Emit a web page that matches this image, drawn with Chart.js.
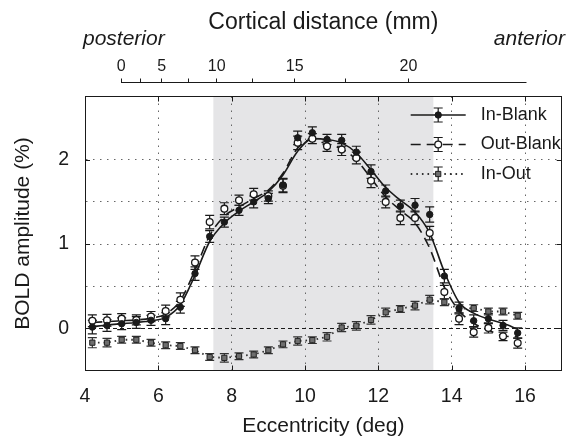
<!DOCTYPE html>
<html>
<head>
<meta charset="utf-8">
<script src="https://cdn.jsdelivr.net/npm/chart.js@4.4.1/dist/chart.umd.min.js"></script>
<style>
  html, body { margin: 0; padding: 0; background: #fff; }
  #wrap { width: 567px; height: 437px; }
</style>
</head>
<body>
<div id="wrap"><canvas id="myChart" width="567" height="437"></canvas></div>
<script>
const FONT = "'Liberation Sans', Arial, Helvetica, sans-serif";
const ink = '#1a1a1a';

// eccentricity of each measurement (deg)
const ecc = [4.2, 4.6, 5.0, 5.4, 5.8, 6.2, 6.6, 7.0, 7.4, 7.8, 8.2, 8.6, 9.0, 9.4, 9.8,
             10.2, 10.6, 11.0, 11.4, 11.8, 12.2, 12.6, 13.0, 13.4, 13.8, 14.2, 14.6, 15.0, 15.4, 15.8];

// BOLD amplitude (%) and s.e.m.
const inBlank = [0.015, 0.035, 0.055, 0.07, 0.095, 0.115, 0.25, 0.65, 1.09, 1.26, 1.40, 1.50, 1.54, 1.70, 2.26,
                 2.32, 2.24, 2.23, 2.09, 1.86, 1.63, 1.45, 1.46, 1.35, 0.62, 0.24, 0.09, 0.115, 0.035, -0.055];
const inBlankErr = [0.08, 0.07, 0.07, 0.07, 0.06, 0.07, 0.07, 0.08, 0.07, 0.06, 0.06, 0.07, 0.06, 0.08, 0.08,
                    0.07, 0.06, 0.07, 0.07, 0.08, 0.07, 0.07, 0.08, 0.09, 0.08, 0.07, 0.07, 0.06, 0.06, 0.06];
const outBlank = [0.09, 0.095, 0.115, 0.10, 0.14, 0.205, 0.34, 0.78, 1.26, 1.42, 1.52, 1.59, 1.57, 1.69, 2.20,
                  2.25, 2.16, 2.12, 2.02, 1.75, 1.50, 1.31, 1.31, 1.13, 0.43, 0.115, -0.045, 0.005, -0.095, -0.175];
const outBlankErr = [0.07, 0.07, 0.06, 0.06, 0.06, 0.07, 0.08, 0.08, 0.08, 0.07, 0.06, 0.07, 0.06, 0.08, 0.08,
                     0.06, 0.06, 0.07, 0.07, 0.08, 0.07, 0.08, 0.08, 0.08, 0.08, 0.07, 0.06, 0.06, 0.05, 0.06];
const inOut = [-0.17, -0.17, -0.135, -0.135, -0.17, -0.2, -0.21, -0.26, -0.34, -0.35, -0.33, -0.31, -0.26, -0.19, -0.15,
               -0.14, -0.10, 0.01, 0.03, 0.10, 0.19, 0.23, 0.27, 0.34, 0.31, 0.23, 0.24, 0.20, 0.20, 0.15];
const inOutErr = [0.06, 0.05, 0.04, 0.04, 0.04, 0.04, 0.04, 0.04, 0.04, 0.05, 0.04, 0.04, 0.04, 0.04, 0.05,
                  0.04, 0.05, 0.05, 0.05, 0.05, 0.05, 0.04, 0.05, 0.05, 0.04, 0.05, 0.04, 0.04, 0.04, 0.04];

// smooth fits through the two main series
const inBlankFit = [0.02, 0.04, 0.055, 0.07, 0.09, 0.13, 0.28, 0.63, 1.03, 1.25, 1.39, 1.50, 1.62, 1.82, 2.10,
                    2.25, 2.24, 2.20, 2.08, 1.88, 1.67, 1.52, 1.38, 1.13, 0.67, 0.31, 0.18, 0.11, 0.06, -0.01];
const outBlankFit = [0.07, 0.08, 0.09, 0.10, 0.12, 0.17, 0.33, 0.69, 1.10, 1.33, 1.44, 1.54, 1.64, 1.84, 2.14,
                     2.24, 2.18, 2.13, 2.00, 1.78, 1.56, 1.40, 1.25, 0.95, 0.49, 0.21, 0.06, -0.02, -0.09, -0.10];

// top axis: cortical distance (mm) and the eccentricity each tick sits at
const cortMm = [0, 2.5, 5, 7.5, 10, 12.5, 15, 17.5, 20];
const cortEcc = [4.99, 5.51, 6.09, 6.81, 7.59, 8.56, 9.72, 11.11, 12.82];
const cortEnd = 16.04;

const xTicks = [4, 6, 8, 10, 12, 14, 16];
const yTicks = [0, 0.5, 1, 1.5, 2];
const yLabels = [0, 1, 2];
const shaded = [7.5, 13.5];

const pts = vals => ecc.map((x, i) => ({ x, y: vals[i] }));

// which point dataset / line dataset each legend row uses
const legendRows = [
  { name: 'In-Blank', pts: 0, line: 3 },
  { name: 'Out-Blank', pts: 1, line: 4 },
  { name: 'In-Out', pts: 2, line: 2 },
];
const errSets = [inBlankErr, outBlankErr, inOutErr];

function drawMarker(ctx, ds, x, y) {
  ctx.save();
  ctx.setLineDash([]);
  ctx.fillStyle = ds.pointBackgroundColor;
  ctx.strokeStyle = ds.pointBorderColor;
  ctx.lineWidth = ds.pointBorderWidth;
  const r = ds.pointRadius;
  ctx.beginPath();
  if (ds.pointStyle === 'rect') {
    const s = r * Math.SQRT1_2;
    ctx.rect(x - s, y - s, 2 * s, 2 * s);
  } else {
    ctx.arc(x, y, r, 0, Math.PI * 2);
  }
  ctx.fill();
  ctx.stroke();
  ctx.restore();
}

function errBar(ctx, x, y1, y2, w) {
  ctx.beginPath();
  ctx.moveTo(x, y1); ctx.lineTo(x, y2);
  ctx.moveTo(x - w, y1); ctx.lineTo(x + w, y1);
  ctx.moveTo(x - w, y2); ctx.lineTo(x + w, y2);
  ctx.stroke();
}

const decor = {
  id: 'decor',
  beforeDraw(chart) {
    const { ctx, chartArea: a, scales: { x } } = chart;
    const x0 = x.getPixelForValue(shaded[0]);
    const x1 = x.getPixelForValue(shaded[1]);
    ctx.save();
    ctx.fillStyle = '#e5e5e7';
    ctx.fillRect(x0, a.top, x1 - x0, a.bottom - a.top);
    ctx.restore();
  },
  beforeDatasetsDraw(chart) {
    const { ctx, chartArea: a, scales: { x, y } } = chart;
    ctx.save();
    // zero reference line
    const y0 = Math.round(y.getPixelForValue(0)) + 0.5;
    ctx.strokeStyle = ink;
    ctx.lineWidth = 1;
    ctx.setLineDash([4, 3]);
    ctx.beginPath(); ctx.moveTo(a.left, y0); ctx.lineTo(a.right, y0); ctx.stroke();
    ctx.setLineDash([]);
    // error bars
    [0, 1, 2].forEach(k => {
      const ds = chart.data.datasets[k];
      ctx.strokeStyle = k === 2 ? '#333' : ink;
      ctx.lineWidth = 1.2;
      ds.data.forEach((p, i) => {
        const e = errSets[k][i];
        const px = x.getPixelForValue(p.x);
        errBar(ctx, px, y.getPixelForValue(p.y - e), y.getPixelForValue(p.y + e), 4.5);
      });
    });
    ctx.restore();
  },
  afterDraw(chart) {
    const { ctx, chartArea: a, scales: { x, y, x2 } } = chart;
    ctx.save();
    ctx.strokeStyle = ink;
    ctx.lineWidth = 1;
    // inward box ticks
    xTicks.slice(1).forEach(v => {
      const px = Math.round(x.getPixelForValue(v)) + 0.5;
      ctx.beginPath();
      ctx.moveTo(px, a.bottom); ctx.lineTo(px, a.bottom - 5);
      ctx.moveTo(px, a.top); ctx.lineTo(px, a.top + 5);
      ctx.stroke();
    });
    yLabels.forEach(v => {
      const py = Math.round(y.getPixelForValue(v)) + 0.5;
      ctx.beginPath();
      ctx.moveTo(a.left, py); ctx.lineTo(a.left + 5, py);
      ctx.moveTo(a.right, py); ctx.lineTo(a.right - 5, py);
      ctx.stroke();
    });
    // cortical distance axis line
    const ly = Math.round(x2.bottom) - 0.5;
    ctx.beginPath();
    ctx.moveTo(x2.getPixelForValue(cortEcc[0]), ly);
    ctx.lineTo(x2.getPixelForValue(cortEnd), ly);
    ctx.stroke();
    // posterior / anterior
    ctx.fillStyle = ink;
    ctx.font = 'italic 21px ' + FONT;
    ctx.textBaseline = 'middle';
    ctx.textAlign = 'left';
    ctx.fillText('posterior', 83, 39);
    ctx.textAlign = 'right';
    ctx.fillText('anterior', 565, 39);
    // legend
    ctx.font = '18px ' + FONT;
    ctx.textAlign = 'left';
    legendRows.forEach((row, i) => {
      const ry = a.top + 18.5 + i * 29.5;
      const lx0 = a.right - 151, lx1 = a.right - 96, mx = (lx0 + lx1) / 2;
      const lds = chart.data.datasets[row.line];
      const pds = chart.data.datasets[row.pts];
      ctx.strokeStyle = lds.borderColor;
      ctx.lineWidth = lds.borderWidth;
      ctx.setLineDash(lds.borderDash || []);
      ctx.beginPath(); ctx.moveTo(lx0, ry); ctx.lineTo(lx1, ry); ctx.stroke();
      ctx.setLineDash([]);
      ctx.lineWidth = 1.2;
      ctx.strokeStyle = ink;
      errBar(ctx, mx, ry - 7, ry + 7, 4.5);
      drawMarker(ctx, pds, mx, ry);
      ctx.fillStyle = ink;
      ctx.fillText(row.name, a.right - 81, ry);
    });
    ctx.restore();
  }
};

const config = {
  type: 'scatter',
  data: {
    datasets: [
      { label: 'In-Blank', data: pts(inBlank), showLine: false, pointStyle: 'circle', pointRadius: 3.2,
        pointBackgroundColor: ink, pointBorderColor: ink, pointBorderWidth: 1, order: 1 },
      { label: 'Out-Blank', data: pts(outBlank), showLine: false, pointStyle: 'circle', pointRadius: 3.4,
        pointBackgroundColor: '#fff', pointBorderColor: ink, pointBorderWidth: 1.3, order: 2 },
      { label: 'In-Out', data: pts(inOut), showLine: true, borderColor: '#333', borderWidth: 1.8,
        borderDash: [1.6, 4], pointStyle: 'rect', pointRadius: 3.7,
        pointBackgroundColor: '#6e6e6e', pointBorderColor: '#222', pointBorderWidth: 1, order: 3 },
      { label: 'In-Blank fit', data: pts(inBlankFit), showLine: true, borderColor: ink, borderWidth: 1.6,
        pointRadius: 0, cubicInterpolationMode: 'monotone', order: 4 },
      { label: 'Out-Blank fit', data: pts(outBlankFit), showLine: true, borderColor: ink, borderWidth: 1.6,
        borderDash: [10, 6], pointRadius: 0, cubicInterpolationMode: 'monotone', order: 5 },
    ],
  },
  options: {
    responsive: false,
    animation: false,
    layout: { padding: 0 },
    plugins: { legend: { display: false }, tooltip: { enabled: false } },
    scales: {
      x: {
        type: 'linear', position: 'bottom', min: 4, max: 17,
        afterBuildTicks: s => { s.ticks = xTicks.map(v => ({ value: v })); },
        afterFit: s => { s.height = 66.5; },
        ticks: { color: ink, font: { family: FONT, size: 19.5 }, padding: 14, maxRotation: 0, autoSkip: false },
        grid: { color: c => (c.tick && c.tick.value === 4 ? 'transparent' : '#666'), lineWidth: 1, drawTicks: false },
        border: { display: true, color: ink, width: 1, dash: [1.5, 5.5] },
        title: { display: true, text: 'Eccentricity (deg)', color: ink,
                 font: { family: FONT, size: 21, lineHeight: 1 }, padding: { top: 0, bottom: 0 } },
      },
      x3: {
        type: 'linear', position: 'top', weight: 0, min: 4, max: 17,
        afterFit: s => { s.height = 14; },
        ticks: { display: false },
        grid: { display: false },
        border: { display: true, color: ink, width: 1 },
      },
      x2: {
        type: 'linear', position: 'top', weight: 1, min: 4, max: 17,
        afterBuildTicks: s => { s.ticks = cortEcc.map(v => ({ value: v })); },
        afterFit: s => { s.height = 82.5; },
        ticks: {
          color: ink, font: { family: FONT, size: 16 }, padding: 2, maxRotation: 0, autoSkip: false,
          callback: (v, i) => (cortMm[i] % 5 === 0 ? String(cortMm[i]) : ''),
        },
        grid: { display: true, drawOnChartArea: false, drawTicks: true, tickLength: 4, color: ink, lineWidth: 1 },
        border: { display: false },
        title: { display: true, text: 'Cortical distance (mm)', color: ink,
                 font: { family: FONT, size: 23, lineHeight: 1 }, padding: { top: 11, bottom: 0 } },
      },
      y: {
        type: 'linear', position: 'left', min: -0.5, max: 2.75,
        afterBuildTicks: s => { s.ticks = yTicks.map(v => ({ value: v })); },
        afterFit: s => { s.width = 85; },
        ticks: { color: ink, font: { family: FONT, size: 19.5 }, padding: 16,
                 callback: v => (yLabels.includes(v) ? String(v) : '') },
        grid: { color: c => (c.tick && c.tick.value === 0 ? 'transparent' : '#666'), lineWidth: 1, drawTicks: false },
        border: { display: true, color: ink, width: 1, dash: [1.5, 5.5] },
        title: { display: true, text: 'BOLD amplitude (%)', color: ink,
                 font: { family: FONT, size: 21 }, padding: { top: 11, bottom: 0 } },
      },
      y2: {
        type: 'linear', position: 'right', min: -0.5, max: 2.75,
        afterFit: s => { s.width = 1; },
        ticks: { display: false },
        grid: { display: false },
        border: { display: true, color: ink, width: 1 },
      },
    },
  },
  plugins: [decor],
};

const myChart = new Chart(document.getElementById('myChart'), config);
</script>
</body>
</html>
